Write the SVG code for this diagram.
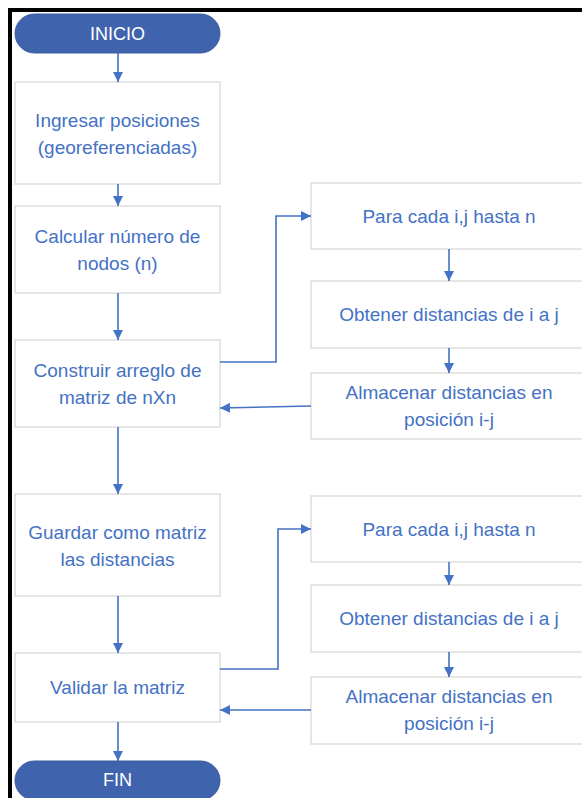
<svg xmlns="http://www.w3.org/2000/svg" width="582" height="798" viewBox="0 0 582 798">
<defs>
<style>
.box{fill:#fff;stroke:#d9d9d9;stroke-width:1.3}
.term{fill:#3f64ad;stroke:#3a5c9f;stroke-width:1}
.t{font-family:"Liberation Sans","Noto Sans",Arial,sans-serif;font-size:19px;fill:#4472c4;text-anchor:middle}
.tw{font-family:"Liberation Sans","Noto Sans",Arial,sans-serif;font-size:18px;fill:#fff;text-anchor:middle}
.c{fill:none;stroke:#4472c4;stroke-width:1.6}
</style>
<marker id="ah" viewBox="0 0 10 10" refX="10" refY="5" markerWidth="10" markerHeight="10" markerUnits="userSpaceOnUse" orient="auto">
<path d="M0,0 L10,5 L0,10 z" fill="#4472c4"/>
</marker>
</defs>
<rect width="582" height="798" fill="#fff"/>
<path d="M10,798 V10 H582" fill="none" stroke="#000" stroke-width="4"/>

<g id="inicio"><rect class="term" x="15" y="14" width="205" height="39" rx="19.5"/><text class="tw" x="117.5" y="39.5">INICIO</text></g>
<g id="ingresar"><rect class="box" x="15" y="82" width="205" height="102"/><text class="t" x="117.5" y="127">Ingresar posiciones</text><text class="t" x="117.5" y="154">(georeferenciadas)</text></g>
<g id="calcular"><rect class="box" x="15" y="206" width="205" height="87"/><text class="t" x="117.5" y="243">Calcular número de</text><text class="t" x="117.5" y="270">nodos (n)</text></g>
<g id="construir"><rect class="box" x="15" y="340" width="205" height="87"/><text class="t" x="117.5" y="377">Construir arreglo de</text><text class="t" x="117.5" y="404">matriz de nXn</text></g>
<g id="para1"><rect class="box" x="311" y="183" width="280" height="66"/><text class="t" x="449" y="223">Para cada i,j hasta n</text></g>
<g id="obtener1"><rect class="box" x="311" y="281" width="280" height="67"/><text class="t" x="449" y="321">Obtener distancias de i a j</text></g>
<g id="almacenar1"><rect class="box" x="311" y="373" width="280" height="66"/><text class="t" x="449" y="399">Almacenar distancias en</text><text class="t" x="449" y="426">posición i-j</text></g>
<g id="guardar"><rect class="box" x="15" y="494" width="205" height="102"/><text class="t" x="117.5" y="539">Guardar como matriz</text><text class="t" x="117.5" y="566">las distancias</text></g>
<g id="validar"><rect class="box" x="15" y="653" width="205" height="69"/><text class="t" x="117.5" y="694">Validar la matriz</text></g>
<g id="para2"><rect class="box" x="311" y="496" width="280" height="66"/><text class="t" x="449" y="536">Para cada i,j hasta n</text></g>
<g id="obtener2"><rect class="box" x="311" y="585" width="280" height="67"/><text class="t" x="449" y="625">Obtener distancias de i a j</text></g>
<g id="almacenar2"><rect class="box" x="311" y="677" width="280" height="67"/><text class="t" x="449" y="703">Almacenar distancias en</text><text class="t" x="449" y="730">posición i-j</text></g>
<g id="fin"><rect class="term" x="15" y="761" width="205" height="39" rx="19.5"/><text class="tw" x="117.5" y="786">FIN</text></g>

<g id="connectors">
<path class="c" d="M118,53 V82" marker-end="url(#ah)"/>
<path class="c" d="M118,184 V206" marker-end="url(#ah)"/>
<path class="c" d="M118,293 V340" marker-end="url(#ah)"/>
<path class="c" d="M118,427 V494" marker-end="url(#ah)"/>
<path class="c" d="M118,596 V653" marker-end="url(#ah)"/>
<path class="c" d="M118,722 V761" marker-end="url(#ah)"/>
<path class="c" d="M220,362 H276 V216 H311" marker-end="url(#ah)"/>
<path class="c" d="M449,249 V281" marker-end="url(#ah)"/>
<path class="c" d="M449,348 V373" marker-end="url(#ah)"/>
<path class="c" d="M311,406 L220,408" marker-end="url(#ah)"/>
<path class="c" d="M220,669 H278 V529 H311" marker-end="url(#ah)"/>
<path class="c" d="M449,562 V585" marker-end="url(#ah)"/>
<path class="c" d="M449,652 V677" marker-end="url(#ah)"/>
<path class="c" d="M311,710 H220" marker-end="url(#ah)"/>
</g>
</svg>
